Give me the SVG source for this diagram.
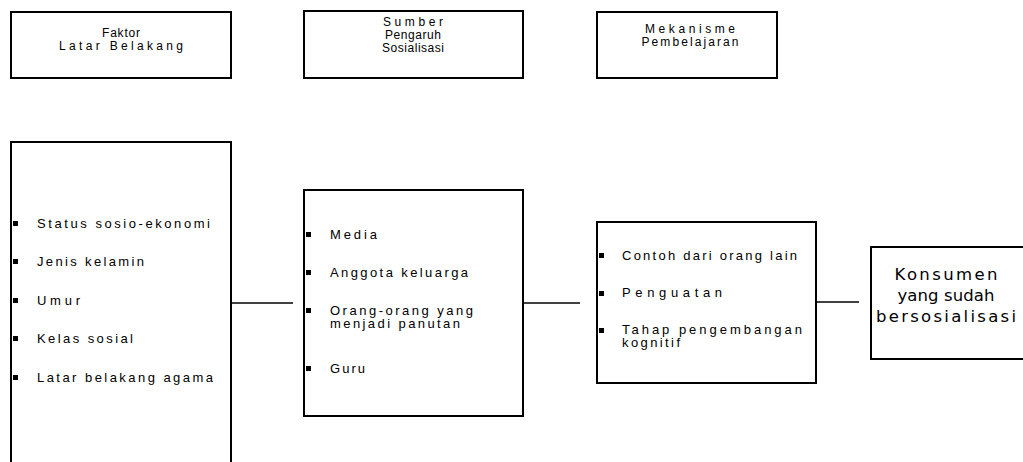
<svg xmlns="http://www.w3.org/2000/svg" width="1023" height="462" viewBox="0 0 1023 462">
  <style>
    .box { fill: #ffffff; stroke: #000000; stroke-width: 2; }
    .open { fill: none; stroke: #000000; stroke-width: 2; }
    .link { fill: none; stroke: #000000; stroke-width: 1.6; }
    .head { font-family: "Liberation Sans", Arial, sans-serif; font-size: 12px; fill: #000000; text-anchor: middle; }
    .item { font-family: "Liberation Sans", Arial, sans-serif; font-size: 13px; fill: #000000; }
    .end { font-family: "DejaVu Sans", Verdana, sans-serif; font-size: 16.5px; fill: #000000; text-anchor: middle; }
    .dot { fill: #000000; }
  </style>
  <rect width="1023" height="462" fill="#ffffff"/>

  <!-- column headers -->
  <g id="hdr-faktor">
    <rect class="box" x="11" y="12" width="220" height="66"/>
    <text class="head" x="121" y="37" textLength="38" lengthAdjust="spacing">Faktor</text>
    <text class="head" x="121" y="50" textLength="124" lengthAdjust="spacing">Latar Belakang</text>
  </g>
  <g id="hdr-sumber">
    <rect class="box" x="304" y="11" width="219" height="67"/>
    <text class="head" x="413" y="26" textLength="60" lengthAdjust="spacing">Sumber</text>
    <text class="head" x="413" y="39" textLength="56" lengthAdjust="spacing">Pengaruh</text>
    <text class="head" x="413" y="52" textLength="62" lengthAdjust="spacing">Sosialisasi</text>
  </g>
  <g id="hdr-mekanisme">
    <rect class="box" x="597" y="12" width="180" height="66"/>
    <text class="head" x="690" y="33" textLength="90" lengthAdjust="spacing">Mekanisme</text>
    <text class="head" x="690" y="46" textLength="97" lengthAdjust="spacing">Pembelajaran</text>
  </g>

  <!-- connectors -->
  <g id="connectors">
    <line class="link" x1="231" y1="303" x2="293" y2="303"/>
    <line class="link" x1="523" y1="303" x2="580" y2="303"/>
    <line class="link" x1="816" y1="302" x2="859" y2="302"/>
  </g>

  <!-- background factors -->
  <g id="node-faktor">
    <path class="open" d="M11,462 V142 H231 V462"/>
    <rect class="dot" x="13" y="221" width="5" height="5"/>
    <rect class="dot" x="13" y="259" width="5" height="5"/>
    <rect class="dot" x="13" y="298" width="5" height="5"/>
    <rect class="dot" x="13" y="336" width="5" height="5"/>
    <rect class="dot" x="13" y="375" width="5" height="5"/>
    <text class="item" x="37" y="228" textLength="173" lengthAdjust="spacing">Status sosio-ekonomi</text>
    <text class="item" x="37" y="266" textLength="107" lengthAdjust="spacing">Jenis kelamin</text>
    <text class="item" x="37" y="305" textLength="43" lengthAdjust="spacing">Umur</text>
    <text class="item" x="37" y="343" textLength="96" lengthAdjust="spacing">Kelas sosial</text>
    <text class="item" x="37" y="382" textLength="176" lengthAdjust="spacing">Latar belakang agama</text>
  </g>

  <!-- sources of socialisation -->
  <g id="node-sumber">
    <rect class="box" x="304" y="190" width="219" height="226"/>
    <rect class="dot" x="306" y="232" width="5" height="5"/>
    <rect class="dot" x="306" y="270" width="5" height="5"/>
    <rect class="dot" x="306" y="308" width="5" height="5"/>
    <rect class="dot" x="306" y="366" width="5" height="5"/>
    <text class="item" x="330" y="239" textLength="47" lengthAdjust="spacing">Media</text>
    <text class="item" x="330" y="277" textLength="138" lengthAdjust="spacing">Anggota keluarga</text>
    <text class="item" x="330" y="315" textLength="143" lengthAdjust="spacing">Orang-orang yang</text>
    <text class="item" x="330" y="328" textLength="130" lengthAdjust="spacing">menjadi panutan</text>
    <text class="item" x="330" y="373" textLength="35" lengthAdjust="spacing">Guru</text>
  </g>

  <!-- learning mechanisms -->
  <g id="node-mekanisme">
    <rect class="box" x="597" y="222" width="219" height="161"/>
    <rect class="dot" x="599" y="253" width="5" height="5"/>
    <rect class="dot" x="599" y="291" width="5" height="5"/>
    <rect class="dot" x="599" y="328" width="5" height="5"/>
    <text class="item" x="622" y="260" textLength="175" lengthAdjust="spacing">Contoh dari orang lain</text>
    <text class="item" x="622" y="297" textLength="100" lengthAdjust="spacing">Penguatan</text>
    <text class="item" x="622" y="334" textLength="180" lengthAdjust="spacing">Tahap pengembangan</text>
    <text class="item" x="622" y="347" textLength="58" lengthAdjust="spacing">kognitif</text>
  </g>

  <!-- outcome -->
  <g id="node-konsumen">
    <path class="open" d="M1023,247 H871 V359 H1023"/>
    <text class="end" x="946" y="280" textLength="103" lengthAdjust="spacing">Konsumen</text>
    <text class="end" x="946" y="301" textLength="97" lengthAdjust="spacing">yang sudah</text>
    <text class="end" x="946" y="322" textLength="140" lengthAdjust="spacing">bersosialisasi</text>
  </g>
</svg>
